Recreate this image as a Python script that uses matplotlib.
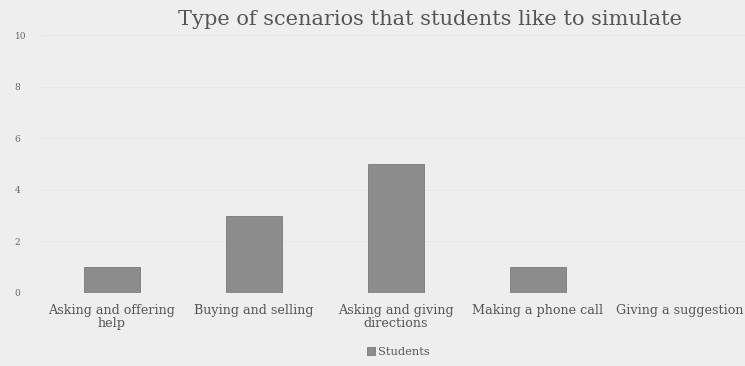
import matplotlib
matplotlib.use("Agg")
import matplotlib.pyplot as plt
import numpy as np

categories = ["Asking and offering\nhelp", "Buying and selling", "Asking and giving\ndirections",
              "Making a phone call", "Giving a suggestion"]
students = [1, 3, 5, 1, 0]
yticks = [0, 2, 4, 6, 8, 10]

plt.rcParams['font.family'] = ['DejaVu Serif']
bg = '#eeeeee'
fig = plt.figure(figsize=(7.45, 3.66), dpi=100, facecolor=bg)
ax = fig.add_axes([0.055, 0.1995, 0.945, 0.7045], facecolor=bg)

x = np.arange(len(categories))
ax.bar(x, students, width=0.4, color='#8c8c8c', edgecolor='#7a7a7a', linewidth=0.6, label='Students', zorder=2)

ax.set_ylim(0, 10)
ax.set_xlim(-0.5, 4.458)
ax.set_yticks(yticks)
ax.set_yticklabels([str(t) for t in yticks], fontsize=6.5, color='#666666')
ax.set_xticks(x)
ax.set_xticklabels(categories, fontsize=9.2, color='#555555', linespacing=0.95)
ax.tick_params(axis='both', length=0)
ax.tick_params(axis='x', pad=8)
for lbl in ax.get_yticklabels():
    lbl.set_horizontalalignment('left')
ax.yaxis.set_tick_params(pad=19)
ax.grid(axis='y', color='#e6e6e6', linewidth=0.5, zorder=0)
for s in ax.spines.values():
    s.set_visible(False)

fig.text(0.577, 0.948, "Type of scenarios that students like to simulate", ha='center', va='center',
         fontsize=15, color='#555555')

leg = fig.legend(loc='center', bbox_to_anchor=(0.535, 0.038), frameon=False, fontsize=8.2,
                 handlelength=0.7, handleheight=0.7, handletextpad=0.3)
for t in leg.get_texts():
    t.set_color('#555555')

fig.savefig("out.png", dpi=100, facecolor=bg)
